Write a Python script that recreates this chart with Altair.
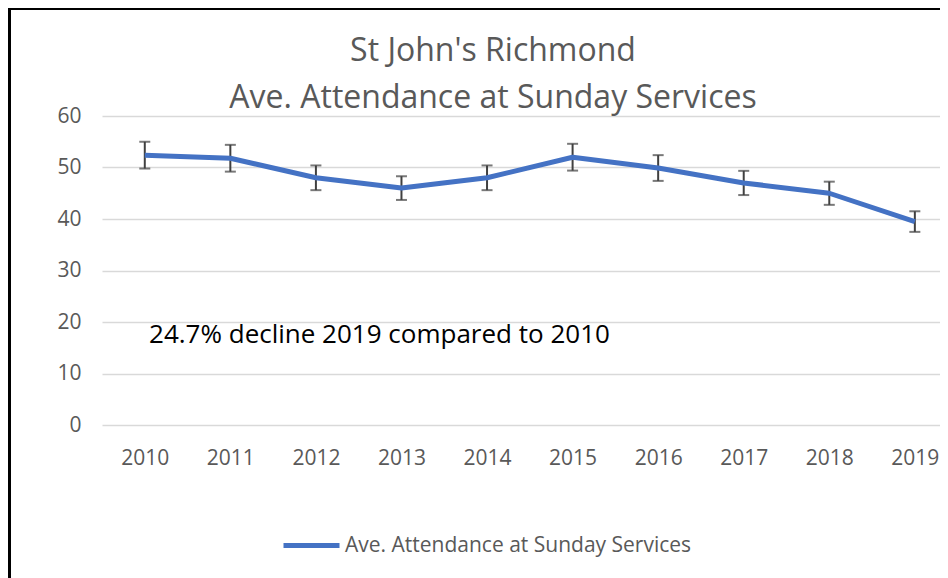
import altair as alt
import pandas as pd

years = [2010, 2011, 2012, 2013, 2014, 2015, 2016, 2017, 2018, 2019]
attendance = [52.4, 51.8, 48.0, 46.0, 48.0, 52.0, 49.9, 47.0, 45.0, 39.5]
errors = [2.6, 2.6, 2.4, 2.3, 2.4, 2.6, 2.5, 2.35, 2.25, 2.0]
series_name = "Ave. Attendance at Sunday Services"
title_line1 = "St John's Richmond"
title_line2 = "Ave. Attendance at Sunday Services"
note_text = "24.7% decline 2019 compared to 2010"
note_year = [2010.05]
note_value = [15.9]

FONT = "Open Sans"
GREY = "#595959"
BLUE = "#4472C4"

df = pd.DataFrame({"year": years, "value": attendance, "err": errors})
df["lo"] = df["value"] - df["err"]
df["hi"] = df["value"] + df["err"]
df["series"] = series_name

note_df = pd.DataFrame({"year": note_year, "value": note_value, "text": [note_text]})

x_scale = alt.Scale(domain=[2009.5, 2019.294], nice=False, zero=False)
y_scale = alt.Scale(domain=[0, 60], nice=False)

base = alt.Chart(df)

line = base.mark_line(strokeWidth=5, strokeJoin="round", strokeCap="butt").encode(
    x=alt.X("year:Q", scale=x_scale,
            axis=alt.Axis(values=years, format="d", title=None, ticks=False, domain=False,
                          grid=False, labelFontSize=21, labelColor=GREY, labelFont=FONT,
                          labelPadding=22)),
    y=alt.Y("value:Q", scale=y_scale,
            axis=alt.Axis(values=[0, 10, 20, 30, 40, 50, 60], title=None, ticks=False, domain=False,
                          grid=True, gridColor="#D9D9D9", gridWidth=1.5,
                          labelFontSize=21, labelColor=GREY, labelFont=FONT, labelPadding=21)),
    color=alt.Color("series:N", scale=alt.Scale(range=[BLUE]),
                    legend=alt.Legend(title=None, orient="none", legendX=179, legendY=399,
                                      symbolType="stroke", symbolSize=3136, symbolStrokeWidth=5,
                                      labelFontSize=21, labelColor=GREY, labelFont=FONT,
                                      labelOffset=3, labelLimit=0, padding=0)),
)

err_rule = base.mark_rule(color="#404040", strokeWidth=2).encode(
    x="year:Q", y="lo:Q", y2="hi:Q"
)
cap_lo = base.mark_tick(color="#404040", thickness=2, size=11, orient="horizontal").encode(
    x="year:Q", y="lo:Q"
)
cap_hi = base.mark_tick(color="#404040", thickness=2, size=11, orient="horizontal").encode(
    x="year:Q", y="hi:Q"
)

note = alt.Chart(note_df).mark_text(align="left", baseline="alphabetic", fontSize=26,
                                    font=FONT, color="#000000").encode(
    x="year:Q", y="value:Q", text="text:N"
)

single = pd.DataFrame({"k": [0]})
title1 = alt.Chart(single).mark_text(text=title_line1, align="center", baseline="alphabetic",
                                     fontSize=32, font=FONT, color=GREY).encode(
    x=alt.value(391), y=alt.value(-55)
)
title2 = alt.Chart(single).mark_text(text=title_line2, align="center", baseline="alphabetic",
                                     fontSize=32, font=FONT, color=GREY).encode(
    x=alt.value(391), y=alt.value(-8)
)

border_left = alt.Chart(single).mark_rule(color="#000000", strokeWidth=3).encode(
    x=alt.value(-92.5), y=alt.value(-108), y2=alt.value(462)
)
border_top = alt.Chart(single).mark_rule(color="#000000", strokeWidth=3).encode(
    x=alt.value(-94), x2=alt.value(838), y=alt.value(-107.5)
)

chart = alt.layer(err_rule, cap_lo, cap_hi, line, note, title1, title2,
                  border_left, border_top).properties(
    width=838,
    height=309,
    autosize=alt.AutoSizeParams(type="none"),
    padding={"left": 94, "top": 108, "right": 0, "bottom": 153},
    background="white",
).configure_view(stroke=None)

chart.save("out.html", embed_options={"renderer": "svg", "actions": False})
